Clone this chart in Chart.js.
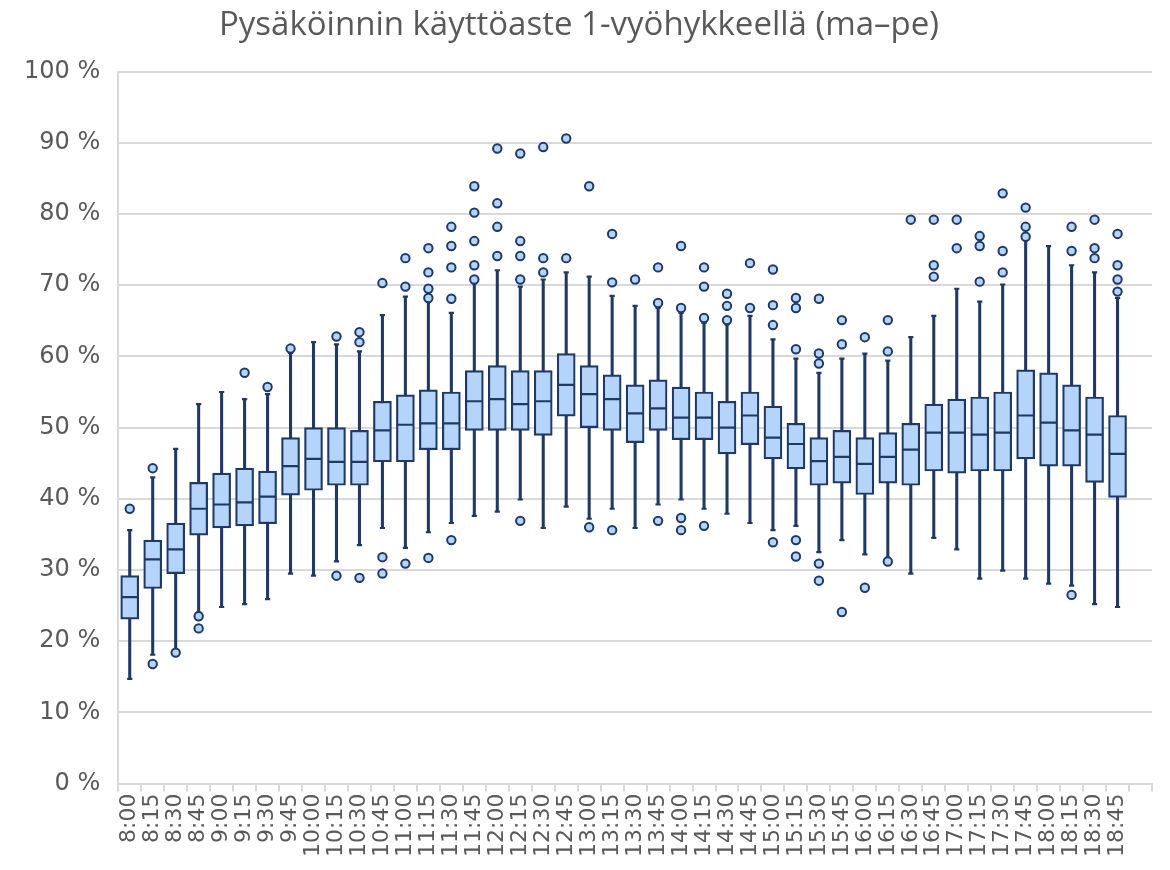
<!DOCTYPE html>
<html>
<head>
<meta charset="utf-8">
<script src="https://cdn.jsdelivr.net/npm/chart.js@4/dist/chart.umd.min.js"></script>
<style>
  html, body { margin: 0; padding: 0; background: #ffffff; }
  #wrap { width: 1170px; height: 870px; }
</style>
</head>
<body>
<div id="wrap"><canvas id="c" width="1170" height="870"></canvas></div>
<script>
// ---- data ----
const categories = ['8:00','8:15','8:30','8:45','9:00','9:15','9:30','9:45',
  '10:00','10:15','10:30','10:45','11:00','11:15','11:30','11:45',
  '12:00','12:15','12:30','12:45','13:00','13:15','13:30','13:45',
  '14:00','14:15','14:30','14:45','15:00','15:15','15:30','15:45',
  '16:00','16:15','16:30','16:45','17:00','17:15','17:30','17:45',
  '18:00','18:15','18:30','18:45',''];

const whiskerLow  = [14.7,18.1,18.7,24.0,24.8,25.2,25.9,29.5,29.2,31.2,33.5,35.9,33.1,35.3,36.6,37.6,
  38.2,39.9,35.9,38.9,37.2,38.6,35.9,39.2,39.9,38.6,37.9,36.6,35.6,36.2,32.5,34.2,
  32.2,31.7,29.5,34.5,32.9,28.8,29.9,28.8,28.1,27.8,25.2,24.8];
const quartile1   = [23.1,27.4,29.5,34.9,35.9,36.2,36.5,40.5,41.2,41.9,41.9,45.2,45.2,46.9,46.9,49.6,
  49.6,49.6,48.9,51.6,50.0,49.6,47.9,49.6,48.3,48.3,46.3,47.6,45.6,44.2,41.9,42.2,
  40.6,42.2,41.9,43.9,43.6,43.9,43.9,45.6,44.6,44.6,42.3,40.2];
const medianVals  = [26.2,31.5,32.9,38.6,39.2,39.5,40.3,44.6,45.6,45.2,45.2,49.6,50.4,50.6,50.6,53.7,
  54.0,53.3,53.7,56.0,54.7,54.0,52.0,52.7,51.4,51.4,50.0,51.7,48.6,47.7,45.3,45.9,
  44.9,45.9,46.9,49.3,49.3,49.0,49.3,51.7,50.7,49.6,49.0,46.3];
const quartile3   = [29.2,34.2,36.6,42.3,43.6,44.3,43.9,48.6,50.0,50.0,49.6,53.7,54.6,55.3,55.0,58.0,
  58.7,58.0,58.0,60.4,58.7,57.4,56.0,56.7,55.7,55.0,53.7,55.0,53.0,50.6,48.6,49.6,
  48.6,49.3,50.6,53.3,54.0,54.3,55.0,58.1,57.7,56.0,54.3,51.7];
const whiskerHigh = [35.6,43.0,47.0,53.3,55.0,54.0,54.7,60.5,62.0,61.7,60.7,65.8,68.4,67.7,66.1,70.3,
  72.1,69.8,70.8,71.8,71.2,68.5,67.1,66.8,66.1,64.7,64.5,65.7,62.4,59.7,57.7,59.7,
  60.4,59.4,62.7,65.7,69.5,67.7,70.1,76.4,75.5,72.8,71.8,68.2];
const outliers = [
  [38.6],[44.3,16.8],[18.4],[23.5,21.8],[],[57.7],[55.7],[61.1],
  [],[62.8,29.2],[63.4,62.0,28.9],[70.3,31.8,29.5],[73.8,69.8,30.9],[75.2,71.8,69.5,68.2,31.7],[78.2,75.5,72.5,68.1,34.2],[83.9,80.2,76.2,72.8,70.8],
  [89.2,81.5,78.2,74.1],[88.5,76.2,74.1,70.8,36.9],[89.4,73.8,71.8],[90.6,73.8],[83.9,36.0],[77.2,70.4,35.6],[70.8],[72.5,67.5,36.9],
  [75.5,66.8,37.3,35.6],[72.5,69.8,65.4,36.2],[68.8,67.1,65.1],[73.1,66.8],[72.2,67.2,64.4,33.9],[68.2,66.8,61.0,34.2,31.9],[68.1,60.4,59.0,30.9,28.5],[65.1,61.7,24.1],
  [62.7,27.5],[65.1,60.7,31.2],[79.2],[79.2,72.8,71.2],[79.2,75.2],[76.9,75.5,70.5],[82.9,74.8,71.8],[80.9,78.2,76.8],
  [],[78.2,74.8,26.5],[79.2,75.2,73.8],[77.2,72.8,70.8,69.1]
];
const yTicks = [0,10,20,30,40,50,60,70,80,90,100];
const titleText = 'Pysäköinnin käyttöaste 1-vyöhykkeellä (ma–pe)';

// ---- styles ----
const NAVY = '#1f3864';
const FILL = '#b4d4fa';
const GRID = '#d9d9d9';
const TEXT = '#595959';

const whiskerData = whiskerLow.map((v, i) => [v, whiskerHigh[i]]);
const boxData = quartile1.map((v, i) => [v, quartile3[i]]);
const outlierPoints = [];
outliers.forEach((arr, i) => arr.forEach(v => outlierPoints.push({ x: categories[i], y: v })));

new Chart(document.getElementById('c'), {
  data: {
    labels: categories,
    datasets: [
      { type: 'bar', data: whiskerData, grouped: false, barThickness: 2.4,
        backgroundColor: NAVY, borderWidth: 0, order: 5 },
      { type: 'bar', data: boxData, grouped: false, barThickness: 18,
        backgroundColor: FILL, borderColor: NAVY, borderWidth: 2.2, borderSkipped: false, order: 4 },
      { type: 'line', data: medianVals, showLine: false, pointStyle: 'line',
        pointRadius: 8, pointBorderWidth: 2.2, pointBorderColor: NAVY, pointBackgroundColor: NAVY, order: 3 },
      { type: 'line', data: whiskerLow, showLine: false, pointStyle: 'line',
        pointRadius: 2.6, pointBorderWidth: 2.2, pointBorderColor: NAVY, order: 3 },
      { type: 'line', data: whiskerHigh, showLine: false, pointStyle: 'line',
        pointRadius: 2.6, pointBorderWidth: 2.2, pointBorderColor: NAVY, order: 3 },
      { type: 'line', data: outlierPoints, showLine: false, pointStyle: 'circle',
        pointRadius: 4.2, pointBorderWidth: 2, pointBorderColor: NAVY, pointBackgroundColor: FILL, order: 1 }
    ]
  },
  options: {
    responsive: false,
    animation: false,
    devicePixelRatio: 1,
    layout: { padding: { left: 6, right: 18, top: 0, bottom: 11 } },
    plugins: {
      legend: { display: false },
      tooltip: { enabled: false },
      title: {
        display: true, text: titleText, color: TEXT,
        font: { family: '"Open Sans", "Noto Sans", sans-serif', size: 33, weight: 'normal' },
        padding: { top: 6, bottom: 26 }
      }
    },
    scales: {
      x: {
        type: 'category', offset: true,
        grid: { display: true, drawOnChartArea: false, drawTicks: true, tickLength: 8,
                color: GRID, lineWidth: 2, offset: true },
        border: { display: true, color: GRID, width: 2 },
        ticks: { autoSkip: false, minRotation: 90, maxRotation: 90, padding: 2, color: TEXT,
                 font: { family: '"DejaVu Sans", Verdana, sans-serif', size: 22 } }
      },
      y: {
        min: 0, max: 100,
        afterBuildTicks: (axis) => { axis.ticks = yTicks.map(v => ({ value: v })); },
        grid: { color: GRID, lineWidth: 2, drawTicks: false },
        border: { display: true, color: GRID, width: 2 },
        ticks: { padding: 18, color: TEXT, callback: (v) => v + ' %',
                 font: { family: '"DejaVu Sans", Verdana, sans-serif', size: 24 } }
      }
    }
  }
});
</script>
</body>
</html>
